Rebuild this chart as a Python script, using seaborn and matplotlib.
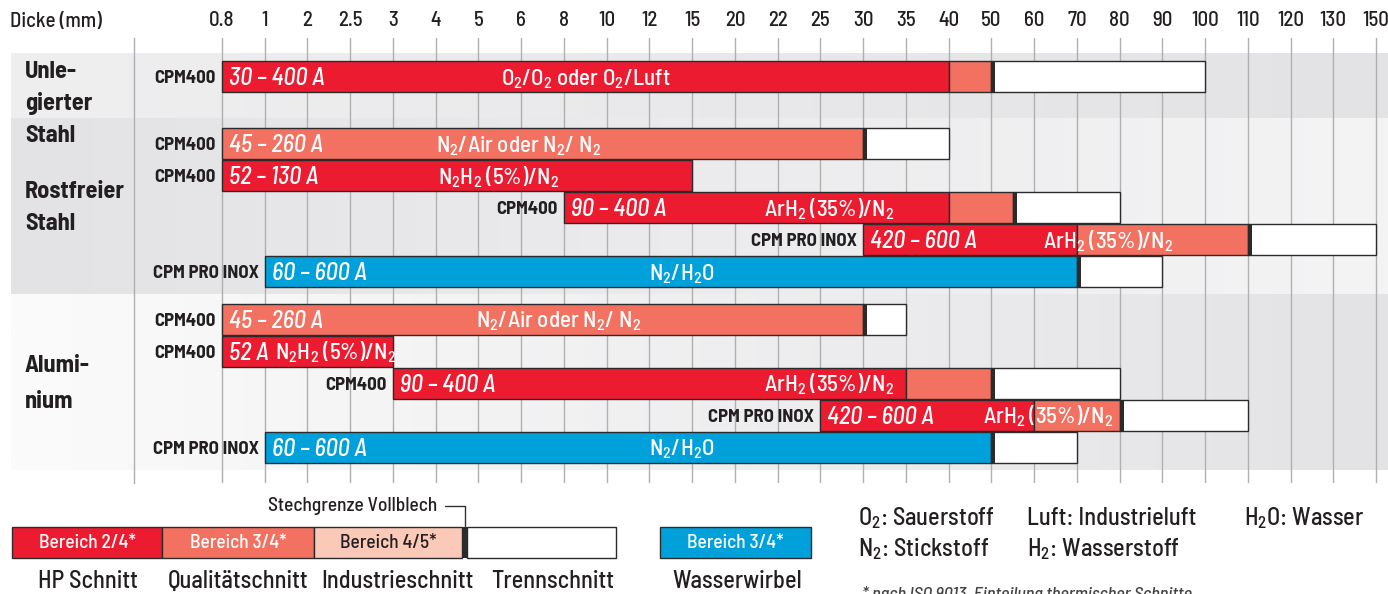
import numpy as np
import matplotlib
matplotlib.use('Agg')
import matplotlib.pyplot as plt
import seaborn as sns
from matplotlib import font_manager

# Thickness scale (mm) - categorical, equally spaced
thickness_ticks = [0.8, 1, 2, 2.5, 3, 4, 5, 6, 8, 10, 12, 15, 20, 22, 25, 30, 35, 40,
                   50, 60, 70, 80, 90, 100, 110, 120, 130, 150]
tick_labels = ['0.8', '1', '2', '2.5', '3', '4', '5', '6', '8', '10', '12', '15', '20', '22',
               '25', '30', '35', '40', '50', '60', '70', '80', '90', '100', '110', '120',
               '130', '150']

# Rows of the chart
group_lines = [['Unle-', 'gierter', 'Stahl'], ['Rostfreier', 'Stahl'], ['Alumi-', 'nium']]
models = ['CPM400', 'CPM400', 'CPM400', 'CPM400', 'CPM PRO INOX', 'CPM PRO INOX',
          'CPM400', 'CPM400', 'CPM400', 'CPM PRO INOX', 'CPM PRO INOX']
currents = ['30 – 400 A', '45 – 260 A', '52 – 130 A', '90 – 400 A', '420 – 600 A',
            '60 – 600 A', '45 – 260 A', '52 A', '90 – 400 A', '420 – 600 A', '60 – 600 A']
gases = ['O$_2$/O$_2$ oder O$_2$/Luft', 'N$_2$/Air oder N$_2$/ N$_2$', 'N$_2$H$_2$ (5%)/N$_2$',
         'ArH$_2$ (35%)/N$_2$', 'ArH$_2$ (35%)/N$_2$', 'N$_2$/H$_2$O',
         'N$_2$/Air oder N$_2$/ N$_2$', 'N$_2$H$_2$ (5%)/N$_2$', 'ArH$_2$ (35%)/N$_2$',
         'ArH$_2$ (35%)/N$_2$', 'N$_2$/H$_2$O']
first_range = ['hp', 'q', 'hp', 'hp', 'hp', 'ww', 'q', 'hp', 'hp', 'hp', 'ww']
cut_start = [0.8, 0.8, 0.8, 8, 30, 1, 0.8, 0.8, 3, 25, 1]
first_end = [40, 30, 15, 40, 70, 70, 30, 3, 35, 60, 50]
quality_end = [50, None, None, 55, 110, None, None, None, 50, 80, None]
sever_end = [100, 40, None, 80, 150, 90, 35, None, 80, 110, 70]

# Layout (pixels from top, figure is 1388x594)
W, H = 1388, 594
row_y = [76.5, 143.5, 175.5, 207.5, 239.5, 271.5, 319, 351, 383, 415, 447]
gas_x = [8.52, 6.93, 6.48, 14.2, 20.73, 10.75, 7.88, 2.66, 14.2, 19.33, 10.75]
group_baselines = [[78, 110, 142], [198, 230], [372, 408]]
bar_h = 31

colors = {'hp': '#ED1B2F', 'q': '#F37161', 'ind': '#FAC9B8', 'ww': '#00A1DB'}
edge = '#2b2b2b'
ink = '#231f20'

sns.set_theme(style='white')
names = {f.name for f in font_manager.fontManager.ttflist}
font = 'DejaVu Sans'
for cand in ['Barlow Semi Condensed', 'Fira Sans Condensed', 'Barlow Condensed']:
    if cand in names:
        font = cand
        break
plt.rcParams['font.family'] = [font, 'DejaVu Sans']
plt.rcParams['font.weight'] = 'medium'
plt.rcParams['mathtext.fontset'] = 'custom'
plt.rcParams['mathtext.rm'] = font + ':medium'
plt.rcParams['mathtext.it'] = font + ':italic:medium'
plt.rcParams['mathtext.bf'] = font + ':bold'
plt.rcParams['mathtext.default'] = 'rm'

fig = plt.figure(figsize=(W / 100, H / 100), dpi=100)

# background axes in pixel units
bg = fig.add_axes([0, 0, 1, 1], zorder=0)
bg.axis('off')


def band(y0, y1, c_left, c_right):
    c0 = np.array(matplotlib.colors.to_rgb(c_left))
    c1 = np.array(matplotlib.colors.to_rgb(c_right))
    t = np.linspace(0, 1, 256)[:, None]
    img = (c0 + (c1 - c0) * t)[None, :, :]
    bg.imshow(img, extent=[11, W, y1, y0], aspect='auto', interpolation='bilinear')


band(53, 118, '#efeff0', '#e3e3e6')
band(118, 294, '#e3e3e6', '#f4f4f5')
band(294, 470, '#fbfbfb', '#e3e3e6')
bg.set_xlim(0, W)
bg.set_ylim(H, 0)

bg.text(10, 27, 'Dicke (mm)', fontsize=15, color=ink, va='baseline')
for lines, bases in zip(group_lines, group_baselines):
    for txt, b in zip(lines, bases):
        bg.text(25, b, txt, fontsize=17.5, fontweight='bold', color=ink, va='baseline')

# main axes: x in thickness-category units, y in pixels
px_per = (1376 - 222) / (len(thickness_ticks) - 1)
ax = fig.add_axes([134 / W, (H - 483) / H, (W - 134) / W, (483 - 38) / H], zorder=1)
ax.set_facecolor('none')
ax.set_xlim(-(222 - 134) / px_per, (W - 222) / px_per)
ax.set_ylim(483, 38)
ax.set_xticks(range(len(thickness_ticks)))
ax.set_xticklabels(tick_labels)
ax.xaxis.tick_top()
ax.tick_params(axis='x', length=0, pad=6, labelsize=15, labelcolor=ink)
ax.set_yticks([])
ax.grid(axis='x', color='#b0b0b0', linewidth=1)
ax.grid(axis='y', visible=False)
for s in ['top', 'right', 'bottom']:
    ax.spines[s].set_visible(False)
ax.spines['left'].set_color('#b0b0b0')
ax.spines['left'].set_linewidth(1)


def pos(mm):
    return np.interp(mm, thickness_ticks, np.arange(len(thickness_ticks)))


mark_w = 4 / px_per
for i in range(len(models)):
    y = row_y[i]
    x0 = pos(cut_start[i])
    x1 = pos(first_end[i])
    ax.barh(y, x1 - x0, left=x0, height=bar_h, color=colors[first_range[i]],
            edgecolor=edge, linewidth=1, zorder=3)
    last = x1
    if quality_end[i] is not None:
        xq = pos(quality_end[i])
        ax.barh(y, xq - last, left=last, height=bar_h, color=colors['q'],
                edgecolor=edge, linewidth=1, zorder=3)
        last = xq
    if sever_end[i] is not None:
        xs = pos(sever_end[i])
        ax.barh(y, xs - last, left=last, height=bar_h, color='white',
                edgecolor=edge, linewidth=1, zorder=3)
        ax.barh(y, mark_w, left=last, height=bar_h, color=edge, linewidth=0, zorder=4)
    ax.text(x0 + 7 / px_per, y + 8.5, currents[i], fontsize=17.5, style='italic',
            color='white', va='baseline', ha='left', zorder=5)
    ax.text(gas_x[i], y + 8.5, gases[i], fontsize=16.5, color='white',
            va='baseline', ha='center', zorder=5)
    ax.text(x0 - 6 / px_per, y + 6.5, models[i], fontsize=13.5, fontweight='bold',
            color=ink, va='baseline', ha='right', zorder=5)

# legend (pixel units)
leg_y0, leg_y1 = 527, 558
leg_boxes = [(12, 162, colors['hp'], 'Bereich 2/4*', 'white'),
             (162, 314, colors['q'], 'Bereich 3/4*', 'white'),
             (314, 462, colors['ind'], 'Bereich 4/5*', ink),
             (467, 616, 'white', '', ink),
             (660, 811, colors['ww'], 'Bereich 3/4*', 'white')]
for a, b, c, t, tc in leg_boxes:
    bg.add_patch(plt.Rectangle((a, leg_y0), b - a, leg_y1 - leg_y0, facecolor=c,
                               edgecolor=edge, linewidth=1))
    if t:
        bg.text((a + b) / 2, 548, t, fontsize=14, color=tc, ha='center', va='baseline')
bg.add_patch(plt.Rectangle((462, leg_y0), 5, leg_y1 - leg_y0, facecolor=edge, linewidth=0))
bg.plot([445, 465, 465], [506, 506, leg_y0], color='#333333', linewidth=1)
bg.text(437, 511, 'Stechgrenze Vollblech', fontsize=14, color=ink, ha='right',
        va='baseline')

cut_names = [('HP Schnitt', 88), ('Qualitätschnitt', 238), ('Industrieschnitt', 397),
             ('Trennschnitt', 553), ('Wasserwirbel', 737)]
for t, x in cut_names:
    bg.text(x, 588, t, fontsize=17.5, color=ink, ha='center', va='baseline')

gas_key = [('O$_2$: Sauerstoff', 858, 525), ('N$_2$: Stickstoff', 858, 556),
           ('Luft: Industrieluft', 1027, 525), ('H$_2$: Wasserstoff', 1027, 556),
           ('H$_2$O: Wasser', 1244, 525)]
for t, x, y in gas_key:
    bg.text(x, y, t, fontsize=17.5, color=ink, ha='left', va='baseline')

bg.text(862, 599, '* nach ISO 9013, Einteilung thermischer Schnitte', fontsize=13,
        style='italic', color='#444444', ha='left', va='baseline')

fig.savefig('out.png', dpi=100)
